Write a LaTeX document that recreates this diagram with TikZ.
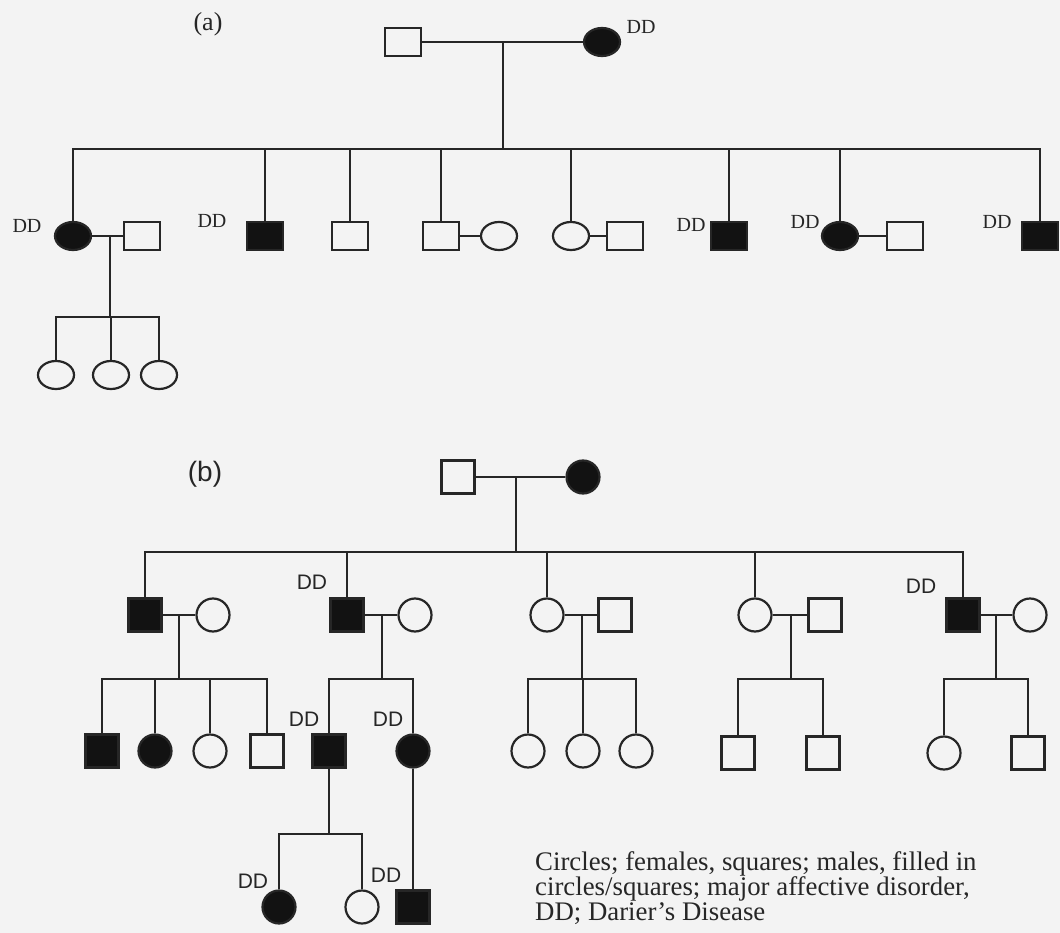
\documentclass[tikz,border=0pt]{standalone}
\usepackage{fontspec}
\setmainfont{Liberation Serif}
\setsansfont{Liberation Sans}
\usetikzlibrary{shapes.geometric}
\definecolor{paper}{HTML}{F3F3F3}
\definecolor{ink}{HTML}{262626}
\definecolor{solid}{HTML}{121212}
\begin{document}
\begin{tikzpicture}[x=1pt,y=-1pt,
  conn/.style={draw=ink,line width=2.2pt},
  % pedigree (a): slightly wide symbols
  am/.style={rectangle,draw=ink,line width=2.2pt,minimum width=36pt,minimum height=28pt,inner sep=0pt},
  af/.style={ellipse,draw=ink,line width=2.2pt,minimum width=36pt,minimum height=28pt,inner sep=0pt},
  amf/.style={am,fill=solid},
  aff/.style={af,fill=solid},
  % pedigree (b): square symbols
  bm/.style={rectangle,draw=ink,line width=2.2pt,minimum size=33pt,inner sep=0pt},
  bf/.style={circle,draw=ink,line width=2.2pt,minimum size=33pt,inner sep=0pt},
  bmf/.style={bm,fill=solid},
  bff/.style={bf,fill=solid},
  dda/.style={inner sep=0pt,text=ink,font=\fontsize{20}{20}\selectfont},
  ddb/.style={inner sep=0pt,text=ink,font=\sffamily\fontsize{21}{21}\selectfont},
  legend/.style={inner sep=0pt,anchor=base west,text=ink,font=\fontsize{26.8}{26.8}\selectfont}]
\fill[paper] (0,0) rectangle (1060,933);
\useasboundingbox (0,0) rectangle (1060,933);

% ---------------- pedigree (a) ----------------
\node[inner sep=0pt,text=ink,font=\fontsize{26}{26}\selectfont] (labA) at (208,24) {(a)};
\node[am]  (aF) at (403,42) {};
\node[aff] (aM) at (602,42) {};
\node[dda] (aMdd) at (641,27) {DD};
\coordinate (aMar) at (503,42);
\coordinate (aSib) at (503,149);
\draw[conn] (aF) -- (aM);
\draw[conn] (aMar) -- (aSib);

\node[aff] (a1) at (73,236) {};   \node[dda] (a1dd) at (27,226) {DD};
\node[am]  (a1s) at (142,236) {};
\node[amf] (a2) at (265,236) {};  \node[dda] (a2dd) at (212,221) {DD};
\node[am]  (a3) at (350,236) {};
\node[am]  (a4) at (441,236) {};
\node[af]  (a4s) at (499,236) {};
\node[af]  (a5) at (571,236) {};
\node[am]  (a5s) at (625,236) {};
\node[amf] (a6) at (729,236) {};  \node[dda] (a6dd) at (691,225) {DD};
\node[aff] (a7) at (840,236) {};  \node[dda] (a7dd) at (805,222) {DD};
\node[am]  (a7s) at (905,236) {};
\node[amf] (a8) at (1040,236) {}; \node[dda] (a8dd) at (997,222) {DD};
\foreach \c in {a1,a2,a3,a4,a5,a6,a7,a8} \draw[conn] (\c.north) |- (aSib);
\draw[conn] (a1) -- (a1s);
\draw[conn] (a4) -- (a4s);
\draw[conn] (a5) -- (a5s);
\draw[conn] (a7) -- (a7s);

\coordinate (a1Mar) at (110,236);
\coordinate (a1Sib) at (110,317);
\draw[conn] (a1Mar) -- (a1Sib);
\node[af] (a1k1) at (56,375) {};
\node[af] (a1k2) at (111,375) {};
\node[af] (a1k3) at (159,375) {};
\foreach \c in {a1k1,a1k2,a1k3} \draw[conn] (\c.north) |- (a1Sib);

% ---------------- pedigree (b) ----------------
\node[inner sep=0pt,text=ink,font=\sffamily\fontsize{28}{28}\selectfont] (labB) at (205,474) {(b)};
\node[bm]  (bF) at (458,477) {};
\node[bff] (bM) at (583,477) {};
\coordinate (bMar) at (516,477);
\coordinate (bSib) at (516,552);
\draw[conn] (bF) -- (bM);
\draw[conn] (bMar) -- (bSib);

\node[bmf] (b1) at (145,615) {};
\node[bf]  (b1s) at (213,615) {};
\node[bmf] (b2) at (347,615) {};  \node[ddb] (b2dd) at (312,582) {DD};
\node[bf]  (b2s) at (415,615) {};
\node[bf]  (b3) at (547,615) {};
\node[bm]  (b3s) at (615,615) {};
\node[bf]  (b4) at (755,615) {};
\node[bm]  (b4s) at (825,615) {};
\node[bmf] (b5) at (963,615) {};  \node[ddb] (b5dd) at (921,586) {DD};
\node[bf]  (b5s) at (1030,615) {};
\foreach \c in {b1,b2,b3,b4,b5} \draw[conn] (\c.north) |- (bSib);
\foreach \p/\s in {b1/b1s,b2/b2s,b3/b3s,b4/b4s,b5/b5s} \draw[conn] (\p) -- (\s);

% family of b1
\coordinate (b1Mar) at (179,615);
\coordinate (b1Sib) at (179,679);
\draw[conn] (b1Mar) -- (b1Sib);
\node[bmf] (b1k1) at (102,751) {};
\node[bff] (b1k2) at (155,751) {};
\node[bf]  (b1k3) at (210,751) {};
\node[bm]  (b1k4) at (267,751) {};
\foreach \c in {b1k1,b1k2,b1k3,b1k4} \draw[conn] (\c.north) |- (b1Sib);

% family of b2
\coordinate (b2Mar) at (382,615);
\coordinate (b2Sib) at (382,679);
\draw[conn] (b2Mar) -- (b2Sib);
\node[bmf] (b2k1) at (329,751) {}; \node[ddb] (b2k1dd) at (304,719) {DD};
\node[bff] (b2k2) at (413,751) {}; \node[ddb] (b2k2dd) at (388,719) {DD};
\foreach \c in {b2k1,b2k2} \draw[conn] (\c.north) |- (b2Sib);

\coordinate (b2k1Sib) at (329,834);
\draw[conn] (b2k1.south) -- (b2k1Sib);
\node[bff] (g1) at (279,907) {}; \node[ddb] (g1dd) at (253,881) {DD};
\node[bf]  (g2) at (362,907) {};
\foreach \c in {g1,g2} \draw[conn] (\c.north) |- (b2k1Sib);
\node[bmf] (g3) at (413,907) {}; \node[ddb] (g3dd) at (386,875) {DD};
\draw[conn] (b2k2.south) -- (g3.north);

% family of b3
\coordinate (b3Mar) at (582,615);
\coordinate (b3Sib) at (582,679);
\draw[conn] (b3Mar) -- (b3Sib);
\node[bf] (b3k1) at (528,751) {};
\node[bf] (b3k2) at (583,751) {};
\node[bf] (b3k3) at (636,751) {};
\foreach \c in {b3k1,b3k2,b3k3} \draw[conn] (\c.north) |- (b3Sib);

% family of b4
\coordinate (b4Mar) at (791,615);
\coordinate (b4Sib) at (791,679);
\draw[conn] (b4Mar) -- (b4Sib);
\node[bm] (b4k1) at (738,753) {};
\node[bm] (b4k2) at (823,753) {};
\foreach \c in {b4k1,b4k2} \draw[conn] (\c.north) |- (b4Sib);

% family of b5
\coordinate (b5Mar) at (996,615);
\coordinate (b5Sib) at (996,679);
\draw[conn] (b5Mar) -- (b5Sib);
\node[bf] (b5k1) at (944,753) {};
\node[bm] (b5k2) at (1028,753) {};
\foreach \c in {b5k1,b5k2} \draw[conn] (\c.north) |- (b5Sib);

% key
\node[legend] (key1) at (535,870) {Circles; females, squares; males, filled in};
\node[legend] (key2) at (535,895) {circles/squares; major affective disorder,};
\node[legend] (key3) at (535,920) {DD; Darier’s Disease};
\end{tikzpicture}
\end{document}
